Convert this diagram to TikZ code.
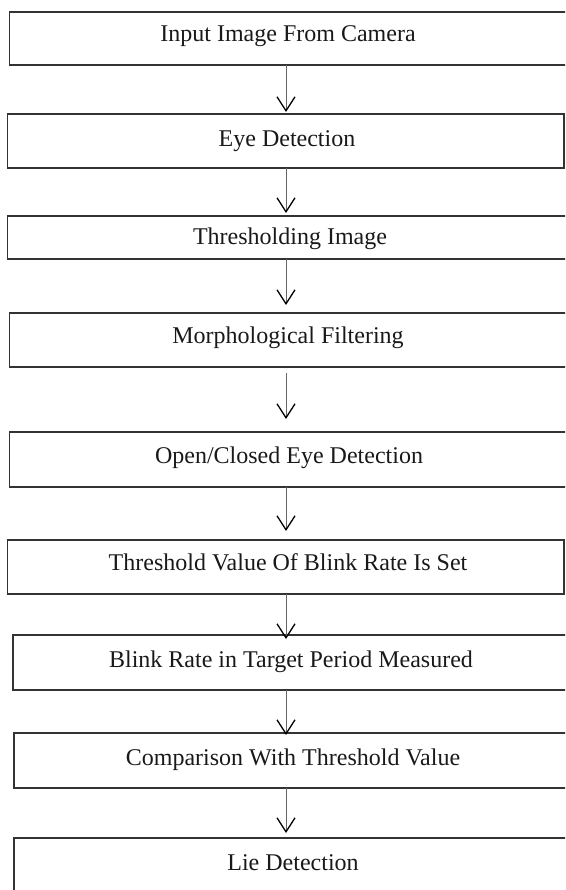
\documentclass[tikz,border=0pt]{standalone}
\usepackage{fontspec}
\setmainfont{Liberation Serif}
\usetikzlibrary{arrows.meta}

\begin{document}
\begin{tikzpicture}[x=1pt, y=-1pt, line join=miter]

  \def\ax{286}

  % Styles
  \tikzset{
    stepbox/.style={draw=black!80, line width=1.3pt, anchor=north west, inner sep=0pt, outer sep=0pt},
    steptext/.style={anchor=base, font=\fontsize{24}{28}\selectfont, text=black!90, inner sep=0pt},
    flow/.style={-{Straight Barb[length=14pt, width=18pt, line width=1.3pt, color=black]}, line width=0.9pt, draw=black!60},
  }

  \useasboundingbox (0,0) rectangle (565,890);
  \clip (0,0) rectangle (565,890);

  \coordinate (axis) at (\ax,0);

  % Boxes
  \node[stepbox, minimum width=571pt, minimum height=53pt] (input) at (9.4,12) {};
  \node[stepbox, minimum width=556.4pt, minimum height=54pt] (eye) at (7.6,114) {};
  \node[stepbox, minimum width=572pt, minimum height=43pt] (thresh) at (7.6,216) {};
  \node[stepbox, minimum width=571pt, minimum height=54pt] (morph) at (9.4,313) {};
  \node[stepbox, minimum width=571pt, minimum height=55pt] (openeye) at (9.4,432) {};
  \node[stepbox, minimum width=556.4pt, minimum height=54pt] (threshval) at (7.6,540) {};
  \node[stepbox, minimum width=568pt, minimum height=55pt] (blink) at (13,635) {};
  \node[stepbox, minimum width=567pt, minimum height=55pt] (compare) at (14,733) {};
  \node[stepbox, minimum width=567pt, minimum height=70pt] (lie) at (14,838) {};

  % Texts
  \node[steptext] (inputtxt) at (288,42) {Input Image From Camera};
  \node[steptext] (eyetxt) at (287,147) {Eye Detection};
  \node[steptext] (threshtxt) at (290,245) {Thresholding Image};
  \node[steptext] (morphtxt) at (288,343) {Morphological Filtering};
  \node[steptext] (openeyetxt) at (289,463) {Open/Closed Eye Detection};
  \node[steptext] (threshvaltxt) at (288,570) {Threshold Value Of Blink Rate Is Set};
  \node[steptext] (blinktxt) at (291,667) {Blink Rate in Target Period Measured};
  \node[steptext] (comparetxt) at (293,765) {Comparison With Threshold Value};
  \node[steptext] (lietxt) at (293,870) {Lie Detection};

  % Arrows
  \draw[flow, shorten >=2pt] (input.south -| axis) -- (eye.north -| axis);
  \draw[flow, shorten >=3pt] (eye.south -| axis) -- (thresh.north -| axis);
  \draw[flow, shorten >=8pt] (thresh.south -| axis) -- (morph.north -| axis);
  \draw[flow, shorten <=6pt, shorten >=13pt] (morph.south -| axis) -- (openeye.north -| axis);
  \draw[flow, shorten >=9pt] (openeye.south -| axis) -- (threshval.north -| axis);
  \draw[flow, shorten >=-4pt] (threshval.south -| axis) -- (blink.north -| axis);
  \draw[flow, shorten >=-2pt] (blink.south -| axis) -- (compare.north -| axis);
  \draw[flow, shorten >=5pt] (compare.south -| axis) -- (lie.north -| axis);

\end{tikzpicture}
\end{document}
